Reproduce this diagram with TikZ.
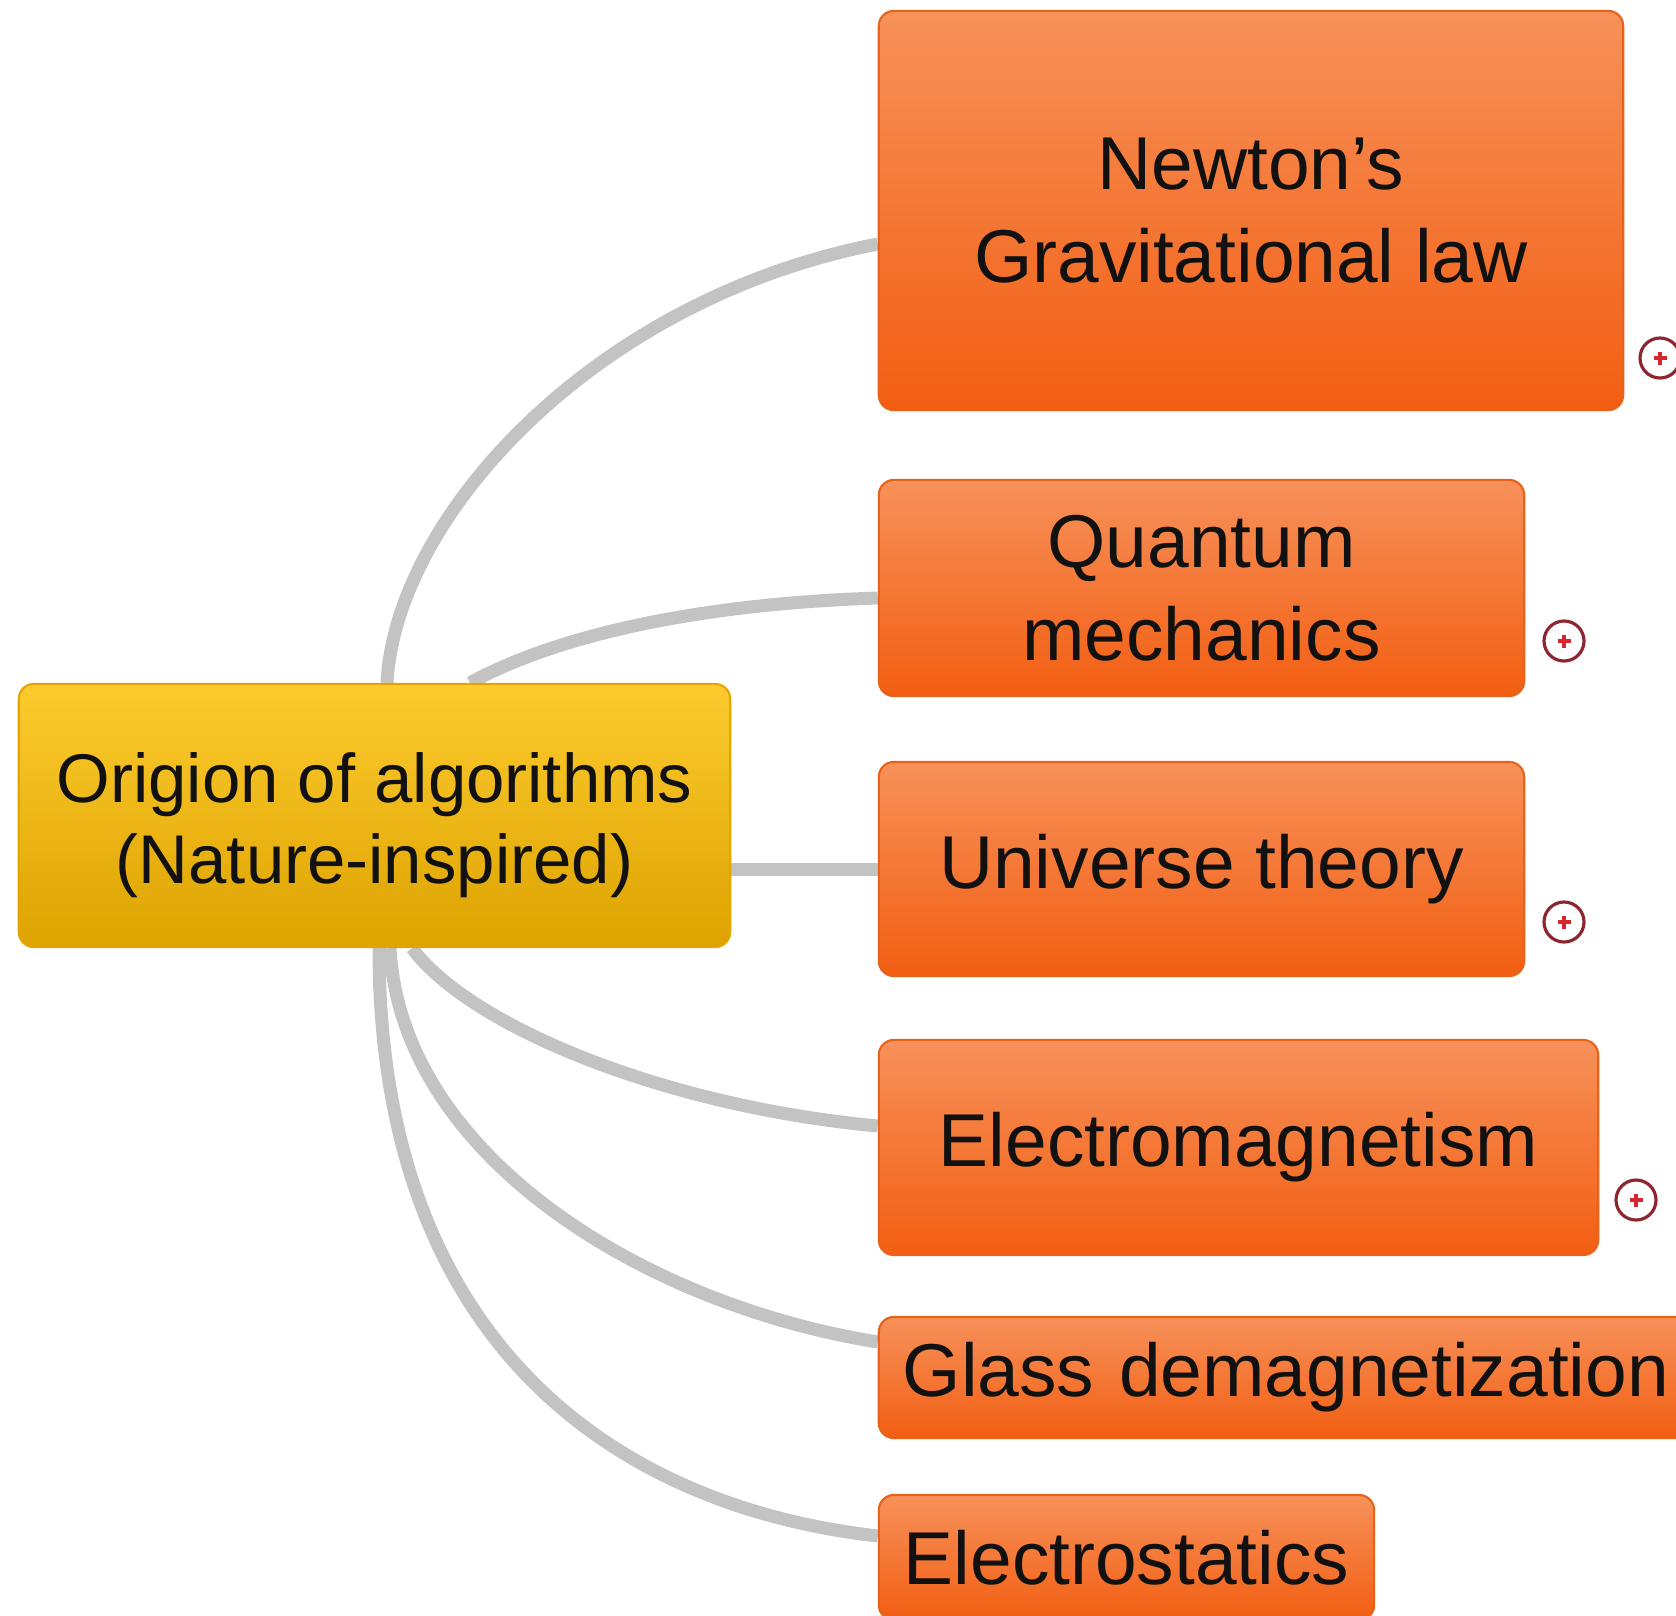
\documentclass[tikz,border=0pt]{standalone}
\usepackage{fontspec}
\setmainfont{Liberation Sans}
\usetikzlibrary{calc,backgrounds}
\definecolor{orT}{HTML}{F7915A}
\definecolor{orM}{HTML}{F36C24}
\definecolor{orB}{HTML}{F25E12}
\definecolor{orE}{HTML}{E8621A}
\definecolor{yeT}{HTML}{FDCB2F}
\definecolor{yeM}{HTML}{F2BA12}
\definecolor{yeB}{HTML}{DDA300}
\definecolor{yeE}{HTML}{E2A600}
\definecolor{conn}{HTML}{C3C3C3}
\definecolor{txt}{HTML}{111111}
\definecolor{plusring}{HTML}{8E2630}
\definecolor{plusmark}{HTML}{D8262E}
\tikzset{
  rootbox/.style={rectangle, rounded corners=0.15cm, draw=yeE, line width=0.6pt,
    top color=yeT, middle color=yeM, bottom color=yeB, inner sep=0pt, align=center,
    text=txt, font=\fontsize{19.6}{23}\selectfont},
  childbox/.style={rectangle, rounded corners=0.15cm, draw=orE, line width=0.6pt,
    top color=orT, middle color=orM, bottom color=orB, inner sep=0pt, align=center,
    text=txt, font=\fontsize{21.3}{26.4}\selectfont},
  conn/.style={draw=conn, line width=0.13cm},
  plusicon/.style={circle, draw=plusring, line width=0.9pt, fill=white, minimum size=0.40cm, inner sep=0pt,
    path picture={\draw[plusmark, line width=1.1pt]
      ($(path picture bounding box.center)+(-6.5,0)$) -- ($(path picture bounding box.center)+(6.5,0)$)
      ($(path picture bounding box.center)+(0,-6.5)$) -- ($(path picture bounding box.center)+(0,6.5)$);}}
}
\begin{document}
\begin{tikzpicture}[x=0.01cm, y=-0.01cm]
\useasboundingbox (0,0) rectangle (1676,1615);
\clip (0,0) rectangle (1676,1615);
\begin{pgfonlayer}{background}
\fill[white] (0,0) rectangle (1676,1615);
\end{pgfonlayer}

% root
\node[rootbox, minimum width=7.11cm, minimum height=2.63cm] (root) at (374.5,815.5)
  {\rule{0pt}{0.7cm}Origion of algorithms\\(Nature-inspired)};

% children
\node[childbox, minimum width=7.44cm, minimum height=3.99cm] (newton) at (1251,210.5)
  {Newton’s\\Gravitational law};
\node[childbox, minimum width=6.45cm, minimum height=2.16cm] (quantum) at (1201.5,588)
  {Quantum\\mechanics};
\node[childbox, minimum width=6.45cm, minimum height=2.14cm] (uni) at (1201.5,869)
  {Universe theory};
\node[childbox, minimum width=7.19cm, minimum height=2.15cm] (em) at (1238.5,1147.5)
  {Electromagnetism};
\node[childbox, minimum height=1.21cm, text width=7.73cm, inner xsep=0.24cm, align=left] (glass) at (1289.5,1377.5)
  {Glass demagnetization};
\node[childbox, minimum width=4.95cm, minimum height=1.25cm] (es) at (1126.5,1557.5)
  {Electrostatics};

% expand icons
\node[plusicon] (pnewton) at (1660,358) {};
\node[plusicon] (pquantum) at (1564,641) {};
\node[plusicon] (puni) at (1564,922) {};
\node[plusicon] (pem) at (1636,1200) {};

% connectors
\begin{pgfonlayer}{background}
\draw[conn] ($(root.north)+(12.5,0)$) .. controls (395,520) and (590,300) .. ($(newton.west)+(0,33.5)$);
\draw[conn] ($(root.north)+(95.5,0)$) .. controls (556,636) and (695,604) .. ($(quantum.west)+(0,10)$);
\draw[conn] (root.east |- uni.west) -- (uni.west);
\draw[conn] ($(root.south)+(37.5,0)$) .. controls (470,1026) and (663,1106) .. ($(em.west)+(0,-21.5)$);
\draw[conn] ($(root.south)+(15.5,0)$) .. controls (401,1154) and (641,1304) .. ($(glass.west)+(0,-35.5)$);
\draw[conn] ($(root.south)+(4.5,0)$) .. controls (379,1347) and (620,1507) .. ($(es.west)+(0,-21.5)$);
\end{pgfonlayer}
\end{tikzpicture}
\end{document}
